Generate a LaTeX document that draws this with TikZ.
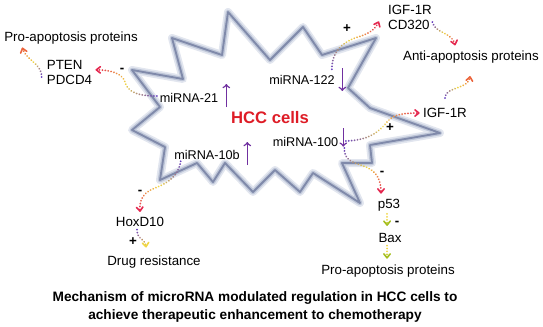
\documentclass[tikz,border=0pt]{standalone}
\usepackage{fontspec}
\setmainfont{Liberation Sans}
\usetikzlibrary{decorations.markings}
\definecolor{mirpurple}{RGB}{112,48,160}
\definecolor{dotviolet}{RGB}{100,60,190}
\definecolor{hccred}{RGB}{222,28,38}
\definecolor{dotyellow}{RGB}{240,215,70}
\definecolor{dotred}{RGB}{228,40,80}
\definecolor{dotorange}{RGB}{235,100,60}
\definecolor{dotgreen}{RGB}{165,190,30}
\definecolor{starcore}{RGB}{128,138,170}
\definecolor{starglow}{RGB}{190,198,216}
\definecolor{starhalo}{RGB}{226,230,239}

\begin{document}
\begin{tikzpicture}[x=0.75pt,y=-0.75pt,
    lbl/.style={inner sep=1pt,font=\fontsize{10}{11.25}\selectfont},
    mir/.style={inner sep=1pt,font=\fontsize{9.5}{11}\selectfont},
    sgn/.style={inner sep=0pt,font=\bfseries\fontsize{10}{12}\selectfont},
    updown/.style={mirpurple,line width=1.1pt,->},
    dotgrad/.style n args={3}{
        postaction={decorate,decoration={markings,
            mark=between positions 0 and 1 step 2.2pt with {
                \pgfmathsetmacro\dotfr{\pgfkeysvalueof{/pgf/decoration/mark info/distance from start}/\pgfdecoratedpathlength}
                \ifdim\dotfr pt<0.5pt
                    \pgfmathtruncatemacro\dotpc{200*\dotfr}\colorlet{dotc}{#2!\dotpc!#1}
                \else
                    \pgfmathtruncatemacro\dotpc{200*\dotfr-100}\colorlet{dotc}{#3!\dotpc!#2}
                \fi
                \fill[dotc] (0,0) circle (0.75pt);}}},
        postaction={decorate,decoration={markings,
            mark=at position 1 with {\draw[#3,line width=1.2pt,line cap=round,line join=round] (-3pt,2.4pt) -- (0,0) -- (-3pt,-2.4pt);}}}
    }]
    \useasboundingbox (0,0) rectangle (543,326);
    \path[fill=white,line join=round,
        postaction={draw=starhalo,line width=6pt,line join=round},
        postaction={draw=starglow,line width=3.4pt,line join=round},
        postaction={draw=starcore,line width=1.4pt,line join=round}]
        (132,70) -- (183,79) -- (172,38) -- (222,55) -- (228,12) -- (270,60) -- (303,27) -- (322,55)
        -- (376,38) -- (348,88) -- (370,108) -- (440,133) -- (370,145) -- (372,163) -- (342,163)
        -- (360,203) -- (313,173) -- (300,192) -- (275,170) -- (253,192) -- (225,163) -- (213,182)
        -- (197,163) -- (160,180) -- (165,147) -- (132,130) -- (160,107) -- cycle;

    \node[lbl] (pro1) at (71,38) {Pro-apoptosis proteins};
    \node[lbl,align=left] (pten) at (69.5,72.5) {PTEN\\PDCD4};
    \node[mir] (mir21) at (189,98) {miRNA-21};
    \node[inner sep=1pt,font=\bfseries\fontsize{12.5}{14}\selectfont,text=hccred] (hcc) at (270,118) {HCC cells};
    \node[mir] (mir122) at (302,80) {miRNA-122};
    \node[mir] (mir100) at (305.5,142) {miRNA-100};
    \node[mir] (mir10b) at (207,155) {miRNA-10b};
    \node[lbl,align=left] (igfa) at (410,17.5) {IGF-1R\\CD320};
    \node[lbl] (anti) at (471,57) {Anti-apoptosis proteins};
    \node[lbl] (igfb) at (445,113) {IGF-1R};
    \node[lbl] (hox) at (140,222) {HoxD10};
    \node[lbl] (drug) at (154,262) {Drug resistance};
    \node[lbl] (p53) at (389,205) {p53};
    \node[lbl] (bax) at (390,238) {Bax};
    \node[lbl] (pro2) at (388,271) {Pro-apoptosis proteins};
    \node[font=\bfseries\fontsize{10.25}{13.5}\selectfont,align=center] (caption) at (255,307)
        {Mechanism of microRNA modulated regulation in HCC cells to\\achieve therapeutic enhancement to chemotherapy};

    \node[sgn] (s1) at (122,70) {-};
    \node[sgn] (s2) at (347,29) {+};
    \node[sgn] (s3) at (390,128) {+};
    \node[sgn] (s4) at (140,192) {-};
    \node[sgn] (s5) at (133,242) {+};
    \node[sgn] (s6) at (382,173) {-};
    \node[sgn] (s7) at (397,223) {-};
    \coordinate (antisrc) at (445,98);

    \draw[updown] ([xshift=4.9pt,yshift=-6.75pt]mir21.east) -- ([xshift=4.9pt,yshift=10.5pt]mir21.east);
    \draw[updown] ([xshift=4.5pt,yshift=9pt]mir122.east) -- ([xshift=4.5pt,yshift=-8.25pt]mir122.east);
    \draw[updown] ([xshift=2.6pt,yshift=10.5pt]mir100.east) -- ([xshift=2.6pt,yshift=-3.5pt]mir100.east);
    \draw[updown] ([xshift=4.5pt,yshift=-7.5pt]mir10b.east) -- ([xshift=4.5pt,yshift=9.75pt]mir10b.east);

    \path[dotgrad={dotviolet}{dotyellow}{dotred}] ([xshift=-1pt,yshift=1.5pt]mir21.west)
        .. controls (140,96) and (128,93) .. (125,82) .. controls (122,73) and (110,70) .. ([xshift=2pt,yshift=2pt]pten.east);
    \path[dotgrad={dotviolet}{dotyellow}{dotorange}] ([xshift=-2.8pt,yshift=-3.4pt]pten.west)
        .. controls (42,64) and (26,60) .. ([xshift=14.9pt,yshift=-1.9pt]pro1.south west);
    \path[dotgrad={dotviolet}{dotyellow}{dotred}] ([xshift=-3.4pt,yshift=3.4pt]mir122.north east)
        .. controls (332,52) and (342,42) .. (358,37) .. controls (368,34) and (375,30) .. ([xshift=-6pt,yshift=-3.4pt]igfa.west);
    \path[dotgrad={dotviolet}{dotyellow}{dotred}] ([xshift=-0.8pt,yshift=-3.4pt]igfa.east)
        .. controls (436,34) and (452,32) .. ([xshift=-12pt,yshift=3.4pt]anti.north);
    \path[dotgrad={dotviolet}{dotyellow}{dotorange}] (antisrc)
        .. controls (446,86) and (468,90) .. ([xshift=-0.75pt,yshift=-9pt]anti.south);
    \path[dotgrad={dotviolet}{dotyellow}{dotred}] ([xshift=4.5pt,yshift=0.75pt]mir100.east)
        .. controls (372,140) and (380,130) .. (388,121) .. controls (394,114) and (405,113) .. ([xshift=-2pt]igfb.west);
    \path[dotgrad={dotviolet}{dotyellow}{dotred}] ([xshift=3.4pt,yshift=-4.5pt]mir100.east)
        .. controls (344,162) and (356,163) .. (366,167) .. controls (377,172) and (381,180) .. ([xshift=-6pt,yshift=3.4pt]p53.north);
    \path[dotgrad={dotviolet}{dotyellow}{dotred}] ([xshift=6pt]mir10b.south west)
        .. controls (178,178) and (165,184) .. (155,188) .. controls (145,192) and (139,198) .. ([yshift=3.4pt]hox.north);
    \path[dotgrad={dotviolet}{mirpurple!50!dotyellow}{dotyellow}] ([xshift=-2.2pt,yshift=-1pt]hox.south)
        .. controls (137,240) and (145,238) .. ([xshift=-6pt,yshift=5.6pt]drug.north);
    \path[dotgrad={dotyellow}{dotyellow}{dotgreen}] ([xshift=-1.5pt,yshift=-1pt]p53.south) -- ([xshift=-2.2pt,yshift=5pt]bax.north);
    \path[dotgrad={dotyellow}{dotyellow}{dotgreen}] ([xshift=-2.2pt,yshift=-1pt]bax.south) -- ([xshift=-0.75pt,yshift=4pt]pro2.north);
\end{tikzpicture}
\end{document}
